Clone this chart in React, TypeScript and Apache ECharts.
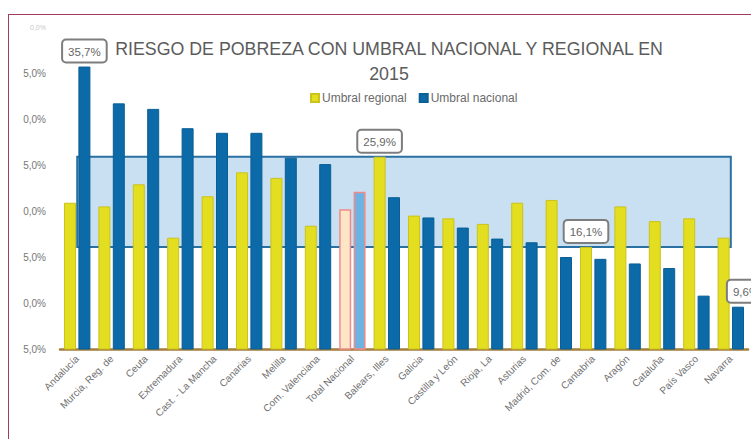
import React, { useEffect, useRef } from "react";
import * as echarts from "echarts";

const categories = [
  "Andalucía",
  "Murcia, Reg. de",
  "Ceuta",
  "Extremadura",
  "Cast. - La Mancha",
  "Canarias",
  "Melilla",
  "Com. Valenciana",
  "Total Nacional",
  "Balears, Illes",
  "Galicia",
  "Castilla y León",
  "Rioja, La",
  "Asturias",
  "Madrid, Com. de",
  "Cantabria",
  "Aragón",
  "Cataluña",
  "País Vasco",
  "Navarra",
];

const umbralRegional = [20.9, 20.5, 22.9, 17.1, 21.6, 24.2, 23.6, 18.4, 20.2, 25.9, 19.5, 19.2, 18.6, 20.9, 21.2, 16.1, 20.5, 18.9, 19.2, 17.1];
const umbralNacional = [35.7, 31.7, 31.1, 29.0, 28.5, 28.5, 25.8, 25.1, 22.1, 21.5, 19.3, 18.2, 17.0, 16.6, 15.0, 14.8, 14.3, 13.8, 10.8, 9.6];

// visible (cropped) tick labels of the value axis
const tickValues = [5, 10, 15, 20, 25, 30, 35, 40];
const tickLabels = ["5,0%", "0,0%", "5,0%", "0,0%", "5,0%", "0,0%", "5,0%", "0,0%"];

// band of regional thresholds (min and max regional threshold)
const bandLow = 16.1;
const bandHigh = 25.9;

const titleText = "RIESGO DE POBREZA CON UMBRAL NACIONAL Y REGIONAL EN\n2015";
const seriesNames = ["Umbral regional", "Umbral nacional"];

const regionalLabels: Record<number, string> = { 9: "25,9%", 15: "16,1%" };
const nacionalLabels: Record<number, string> = { 0: "35,7%", 19: "9,6%" };

const TOTAL_IDX = categories.indexOf("Total Nacional");

const boxLabel = {
  show: true,
  position: "top",
  distance: 5,
  color: "#666",
  fontSize: 11.5,
  backgroundColor: "#fff",
  borderColor: "#7d7d7d",
  borderWidth: 2,
  borderRadius: 3,
  padding: [5, 5, 4, 5],
};

export default function App() {
  const ref = useRef<HTMLDivElement>(null);

  useEffect(() => {
    if (!ref.current) return;
    const chart = echarts.init(ref.current, undefined, { renderer: "svg" });

    const regionalData = umbralRegional.map((v, i) => {
      const item: any = { value: v };
      if (i === TOTAL_IDX) {
        item.itemStyle = { color: "#fde5c6", borderColor: "#f08a8a", borderWidth: 1.5 };
      }
      if (regionalLabels[i]) {
        item.label = { ...boxLabel, formatter: regionalLabels[i] };
      }
      return item;
    });

    const nacionalData = umbralNacional.map((v, i) => {
      const item: any = { value: v };
      if (i === TOTAL_IDX) {
        item.itemStyle = { color: "#6db3e2", borderColor: "#f08a8a", borderWidth: 1.5 };
      }
      if (nacionalLabels[i]) {
        item.label = {
          ...boxLabel,
          formatter: nacionalLabels[i],
          offset: i === categories.length - 1 ? [8, 0] : [0, 0],
        };
      }
      return item;
    });

    chart.setOption({
      animation: false,
      textStyle: { fontFamily: "Liberation Sans, Arial, sans-serif" },
      title: {
        text: titleText,
        left: 376,
        top: 23,
        textAlign: "center",
        textStyle: {
          fontSize: 17.8,
          fontWeight: "normal",
          color: "#5b5b5b",
          lineHeight: 25,
          fontFamily: "Liberation Sans, Arial, sans-serif",
        },
      },
      legend: {
        data: seriesNames,
        left: 297,
        top: 79,
        itemWidth: 8,
        itemHeight: 8,
        itemGap: 12,
        icon: "rect",
        textStyle: { fontSize: 12, color: "#6a6a6a", padding: [0, 0, 0, -2] },
      },
      grid: { left: 52, right: 3, top: 19, bottom: 90 },
      xAxis: {
        type: "category",
        data: categories,
        axisLine: { lineStyle: { color: "#a57d3d", width: 2.5 } },
        axisTick: { show: false },
        axisLabel: {
          interval: 0,
          rotate: 45,
          fontSize: 10,
          color: "#717171",
          margin: 8,
        },
      },
      yAxis: {
        type: "value",
        min: 5,
        max: 40,
        interval: 5,
        axisLine: { show: false },
        axisTick: { show: false },
        splitLine: { show: false },
        axisLabel: {
          fontSize: 10,
          color: "#777",
          margin: 14,
          formatter: (v: number) => {
            const idx = tickValues.indexOf(Math.round(v));
            if (idx < 0) return "";
            if (v >= 40) return "{f|" + tickLabels[idx] + "}";
            return tickLabels[idx];
          },
          rich: { f: { fontSize: 7, color: "#c8c8c8" } },
        },
      },
      series: [
        {
          name: "band",
          type: "custom",
          z: 1,
          silent: true,
          data: [[0, categories.length - 1, bandLow, bandHigh]],
          encode: { x: [0, 1], y: [2, 3] },
          renderItem: (params: any, api: any) => {
            const p1 = api.coord([api.value(0), api.value(3)]);
            const p2 = api.coord([api.value(1), api.value(2)]);
            return {
              type: "rect",
              shape: { x: p1[0], y: p1[1], width: p2[0] - p1[0], height: p2[1] - p1[1] },
              style: { fill: "#c8e0f2", stroke: "#2a70a3", lineWidth: 2 },
            };
          },
        },
        {
          name: seriesNames[0],
          type: "bar",
          z: 2,
          barWidth: 12,
          barGap: "20%",
          itemStyle: { color: "#e3de1f", borderColor: "#cbc21c", borderWidth: 1 },
          data: regionalData,
        },
        {
          name: seriesNames[1],
          type: "bar",
          z: 2,
          barWidth: 12,
          itemStyle: { color: "#0b6aa7", borderColor: "#0a5f95", borderWidth: 1 },
          data: nacionalData,
        },
      ],
    });

    return () => chart.dispose();
  }, []);

  return (
    <div
      style={{
        position: "fixed",
        left: 8,
        top: 8,
        width: 743,
        height: 431,
        overflow: "hidden",
        background: "#fff",
      }}
    >
      <div
        style={{
          position: "absolute",
          left: 0,
          top: 6,
          width: 800,
          height: 500,
          borderLeft: "1.5px solid #a03d60",
          borderTop: "1.5px solid #a03d60",
          boxSizing: "border-box",
        }}
      />
      <div ref={ref} style={{ position: "absolute", left: 0, top: 0, width: 743, height: 431 }} />
    </div>
  );
}
